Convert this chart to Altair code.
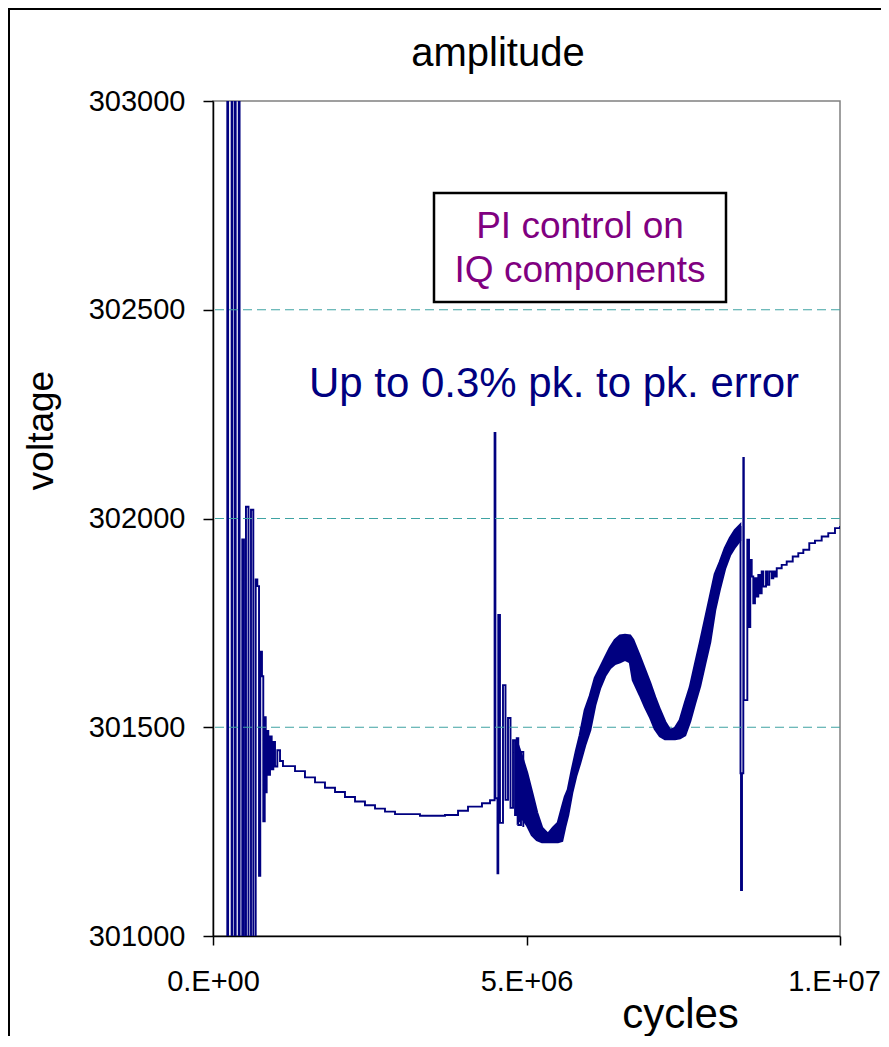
import altair as alt
import pandas as pd

# ---- data ----
# trace, part 1: start-up ringing, slow drift, first disturbance
seg_a_cycles = [190000, 228000, 241000, 297000, 310000, 350000, 362000, 411000, 424000,
                467000, 494000, 526000, 566000, 606000, 643000, 681000, 707000, 734000,
                754000, 781000, 802000, 825000, 841000, 856000, 882000, 909000, 936000,
                962000, 989000, 1026000, 1069000, 1116000, 1308000, 1467000, 1627000,
                1786000, 1946000, 2105000, 2265000, 2424000, 2584000, 2743000, 2903000,
                3301000, 3700000, 3908000, 4067000, 4290000, 4418000, 4491000, 4504000,
                4537000, 4550000, 4577000, 4625000, 4665000, 4705000, 4745000, 4785000,
                4817000, 4844000, 4869000, 4912000, 4949000]
seg_a_volts = [299000, 305000, 299000, 305000, 299000, 305000, 299000, 305000, 299000,
               301950, 300800, 302028, 300900, 302021, 300900, 301854, 301838, 301144,
               301681, 301622, 301275, 301524, 301344, 301491, 301386, 301478, 301399,
               301465, 301406, 301445, 301419, 301407, 301395, 301380, 301368,
               301355, 301345, 301333, 301322, 301313, 301305, 301298, 301292,
               301288, 301290, 301300, 301310, 301318, 301325, 302205, 301330,
               301150, 301769, 301271, 301601, 301326, 301522, 301307, 301469,
               301290, 301474, 301266, 301441, 301261]
# trace, part 2: second disturbance and recovery
seg_b_cycles = [8397000, 8413000, 8421000, 8437000, 8458000, 8466000, 8501000, 8522000,
                8549000, 8569000, 8592000, 8617000, 8644000, 8671000, 8697000, 8724000,
                8751000, 8777000, 8820000, 8840000, 8872000, 8911000, 8936000, 8963000,
                8991000, 9070000, 9150000, 9246000, 9335000, 9415000, 9510000, 9601000,
                9708000, 9813000, 9920000, 10000000]
seg_b_volts = [301980, 301390, 301110, 301390, 302145, 301565, 301565, 301949,
               301740, 301901, 301861, 301797, 301857, 301813, 301865, 301821,
               301873, 301837, 301873, 301841, 301873, 301857, 301873, 301861,
               301881, 301889, 301897, 301909, 301917, 301925, 301941, 301947,
               301957, 301965, 301977, 301982]
# fast-oscillation envelope (upper / lower edge of the dense band)
band_cycles = [4864000, 4928000, 5008000, 5088000, 5167000, 5247000, 5343000, 5423000,
               5502000, 5566000, 5614000, 5662000, 5726000, 5789000, 5853000, 5933000,
               6013000, 6093000, 6172000, 6252000, 6332000, 6411000, 6491000, 6571000,
               6651000, 6699000, 6810000, 6890000, 6970000, 7049000, 7129000, 7209000,
               7289000, 7368000, 7448000, 7528000, 7608000, 7687000, 7767000, 7847000,
               7927000, 8006000, 8086000, 8166000, 8246000, 8325000, 8405000]
band_upper = [301457, 301429, 301390, 301343, 301295, 301259, 301244, 301259,
              301271, 301307, 301333, 301350, 301398, 301441, 301481, 301541,
              301575, 301618, 301642, 301666, 301690, 301709, 301719, 301721,
              301719, 301709, 301668, 301637, 301606, 301572, 301541, 301513,
              301493, 301498, 301517, 301558, 301596, 301649, 301702, 301757,
              301812, 301867, 301896, 301929, 301953, 301972, 301984]
band_lower = [301273, 301283, 301266, 301242, 301230, 301225, 301225, 301225,
              301225, 301228, 301261, 301290, 301343, 301383, 301414, 301457,
              301493, 301553, 301594, 301623, 301642, 301652, 301656, 301662,
              301656, 301613, 301577, 301549, 301525, 301496, 301479, 301472,
              301472, 301472, 301474, 301481, 301515, 301558, 301599, 301652,
              301704, 301781, 301834, 301881, 301913, 301932, 301948]

grid_values = [301500, 302000, 302500]
y_ticks = [301000, 301500, 302000, 302500, 303000]
x_ticks = [0, 5000000, 10000000]
x_tick_labels = ["0.E+00", "5.E+06", "1.E+07"]

FONT = "Liberation Sans"
NAVY = "#000080"

line_df = pd.DataFrame({
    "cycles": seg_a_cycles + seg_b_cycles,
    "volts": seg_a_volts + seg_b_volts,
    "seg": ["a"] * len(seg_a_cycles) + ["b"] * len(seg_b_cycles),
})
band_df = pd.DataFrame({"cycles": band_cycles, "upper": band_upper, "lower": band_lower})
grid_df = pd.DataFrame({"v": grid_values})
one = pd.DataFrame({"k": [0]})

label_expr = ""
for v, t in zip(x_ticks[:-1], x_tick_labels[:-1]):
    label_expr += f"datum.value == {v} ? '{t}' : "
label_expr += f"'{x_tick_labels[-1]}'"

xscale = alt.Scale(domain=[0, 10000000], nice=False, zero=False)
yscale = alt.Scale(domain=[301000, 303000], nice=False, zero=False)

x_axis = alt.Axis(
    values=x_ticks, labelExpr=label_expr, title="cycles",
    titleX=467, titleY=91, titleAlign="center", titleBaseline="alphabetic",
    titleFontSize=42, titleFontWeight="normal", titleColor="black", titleFont=FONT,
    labelFontSize=29, labelFont=FONT, labelColor="black", labelBaseline="alphabetic",
    labelPadding=45, labelFlush=False, labelOverlap=False,
    labelOffset={"condition": {"test": f"datum.value == {x_ticks[-1]}", "value": -6}, "value": 0},
    tickSize=9, tickColor="black", tickWidth=1.5,
    domainColor="black", domainWidth=1.5, grid=False,
)
y_axis = alt.Axis(
    values=y_ticks, format="d", title="voltage",
    titleX=-161, titleY=329, titleAngle=270, titleAlign="center", titleBaseline="alphabetic",
    titleFontSize=37, titleFontWeight="normal", titleColor="black", titleFont=FONT,
    labelFontSize=29, labelFont=FONT, labelColor="black", labelPadding=18,
    labelFlush=False, labelOverlap=False,
    tickSize=10, tickColor="black", tickWidth=1.5,
    domainColor="black", domainWidth=1.5, grid=False,
)

band = alt.Chart(band_df).mark_area(color=NAVY, stroke=NAVY, strokeWidth=2.6, clip=True).encode(
    x=alt.X("cycles:Q", scale=xscale, axis=x_axis),
    y=alt.Y("upper:Q", scale=yscale, axis=y_axis),
    y2="lower:Q",
)

grid = alt.Chart(grid_df).mark_rule(color="#3FA3A3", strokeDash=[9, 5], strokeWidth=1).encode(
    y=alt.Y("v:Q", scale=yscale, axis=y_axis)
)

line = alt.Chart(line_df).mark_line(color=NAVY, strokeWidth=1.9, interpolate="step-after", clip=True).encode(
    x=alt.X("cycles:Q", scale=xscale, axis=x_axis),
    y=alt.Y("volts:Q", scale=yscale, axis=y_axis),
    detail="seg:N",
)

box = alt.Chart(one).mark_rect(fill="white", stroke="black", strokeWidth=2.5).encode(
    x=alt.value(221), x2=alt.value(513), y=alt.value(92), y2=alt.value(201)
)
box_t1 = alt.Chart(one).mark_text(text="PI control on", font=FONT, fontSize=37, color="#800080",
                                  align="center", baseline="alphabetic").encode(
    x=alt.value(367), y=alt.value(137))
box_t2 = alt.Chart(one).mark_text(text="IQ components", font=FONT, fontSize=37, color="#800080",
                                  align="center", baseline="alphabetic").encode(
    x=alt.value(367), y=alt.value(181))
err_t = alt.Chart(one).mark_text(text="Up to 0.3% pk. to pk. error", font=FONT, fontSize=42,
                                 color=NAVY, align="center", baseline="alphabetic").encode(
    x=alt.value(341), y=alt.value(296))
title_t = alt.Chart(one).mark_text(text="amplitude", font=FONT, fontSize=40, color="black",
                                   align="center", baseline="alphabetic").encode(
    x=alt.value(285), y=alt.value(-35))

border_left = alt.Chart(one).mark_rule(color="black", strokeWidth=2).encode(
    x=alt.value(-204), y=alt.value(-93), y2=alt.value(960))
border_top = alt.Chart(one).mark_rule(color="black", strokeWidth=2).encode(
    x=alt.value(-205), x2=alt.value(700), y=alt.value(-92))

chart = alt.layer(
    line, grid, band, box, box_t1, box_t2, err_t, title_t, border_left, border_top
).properties(
    width=627, height=835,
    padding={"left": 205, "top": 93, "right": 41, "bottom": 100},
    autosize=alt.AutoSizeParams(type="none"),
    background="white",
).configure_view(stroke="#808080", strokeWidth=1.5)

chart.save("out.html", embed_options={"renderer": "svg", "actions": False})
